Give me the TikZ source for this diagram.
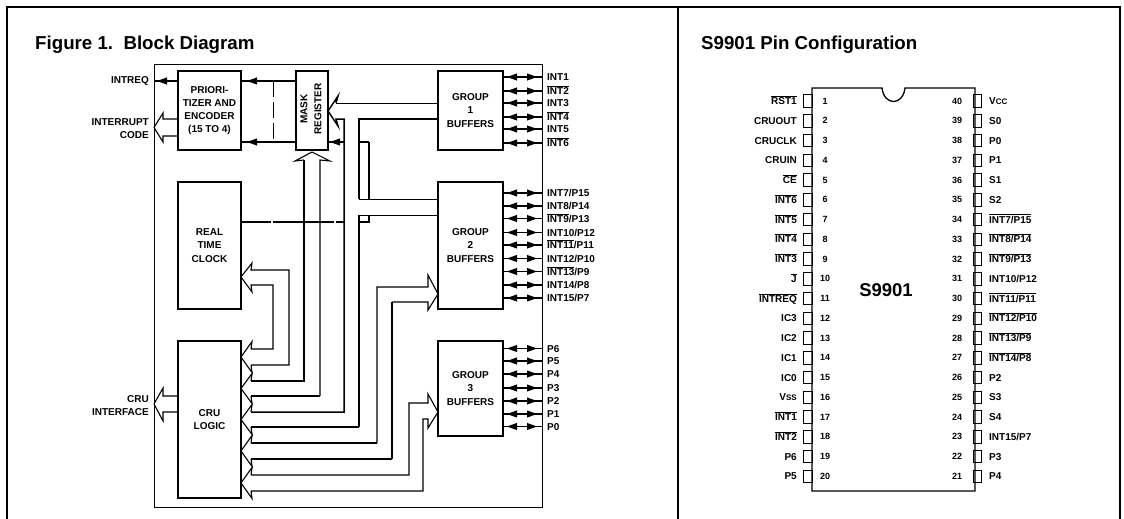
\documentclass[tikz,border=0pt]{standalone}
\usepackage{fontspec}
\setmainfont{Liberation Sans}
\usetikzlibrary{decorations.markings,calc}
\newcommand\ovl[1]{\vbox{\hrule height .7pt \kern .8pt \hbox{#1}}}
\newcommand\smc[1]{{\fontsize{8}{8}\selectfont #1}}
\tikzset{
  frameline/.style={line width=1.5pt},
  wthin/.style={line width=.8pt},
  wmed/.style={line width=1.1pt},
  wthick/.style={line width=1.5pt},
  blockbox/.style={draw,line width=1.6pt,inner sep=0pt,outer sep=0pt,anchor=north west,align=center,
     font=\fontsize{10}{13.3}\selectfont\bfseries},
  plainbox/.style={draw,line width=.9pt,inner sep=0pt,outer sep=0pt,anchor=north west},
  lab/.style={inner sep=0pt,font=\fontsize{10}{12}\selectfont\bfseries},
  num/.style={inner sep=0pt,font=\fontsize{9}{11}\selectfont\bfseries},
  pinbox/.style={draw,line width=.9pt,inner sep=0pt,outer sep=0pt,minimum width=8.5pt,minimum height=12.5pt},
  bidi/.style={wmed,postaction={decorate},decoration={markings,
     mark=at position 4pt with {\fill (0,0)--(10,3.6)--(10,-3.6)--cycle;},
     mark=at position -5pt with {\fill (0,0)--(-10,3.6)--(-10,-3.6)--cycle;}}},
  arrowat/.style={postaction={decorate},decoration={markings,
     mark=at position -#1pt with {\fill (0,0)--(-10,3.6)--(-10,-3.6)--cycle;}}},
  titletext/.style={inner sep=0pt,font=\fontsize{18.7}{20}\selectfont\bfseries},
}
\begin{document}
\begin{tikzpicture}[x=1pt,y=-1pt,line join=miter]
\useasboundingbox (0,0) rectangle (1124,519);
% page frame
\draw[frameline] (7,519)--(7,7)--(1120,7)--(1120,519);
\draw[frameline] (678,7)--(678,519);
\node[titletext,anchor=base west] (title1) at (35,49) {Figure 1.\ \ Block Diagram};
\node[titletext,anchor=base west] (title2) at (701,49) {S9901 Pin Configuration};
% block diagram
\node[plainbox,minimum width=388pt,minimum height=443pt] (frame) at (154,64) {};
\node[blockbox,minimum width=63pt,minimum height=79pt] (prio) at (178,71) {PRIORI-\\TIZER AND\\ENCODER\\(15 TO 4)};
\node[blockbox,minimum width=32pt,minimum height=79pt] (mask) at (296,71) {};
\node[lab,rotate=90,align=center,font=\fontsize{10}{14}\selectfont\bfseries] (masktext) at (311,109) {MASK\\REGISTER};
\node[blockbox,minimum width=63pt,minimum height=127pt] (rtc) at (178,182) {REAL\\TIME\\CLOCK};
\node[blockbox,minimum width=63pt,minimum height=157pt] (cru) at (178,341) {CRU\\LOGIC};
\node[blockbox,minimum width=65pt,minimum height=79pt] (g1) at (438,71) {GROUP\\1\\BUFFERS};
\node[blockbox,minimum width=65pt,minimum height=127pt] (g2) at (438,182) {GROUP\\2\\BUFFERS};
\node[blockbox,minimum width=65pt,minimum height=95pt] (g3) at (438,341) {GROUP\\3\\BUFFERS};
% left labels
\node[lab,anchor=base east] (lreq) at (149,84) {INTREQ};
\node[lab,anchor=base east] (lint) at (149,125) {INTERRUPT};
\node[lab,anchor=base east] (lcode) at (149,138) {CODE};
\node[lab,anchor=base east] (lcru) at (149,402) {CRU};
\node[lab,anchor=base east] (lif) at (149,415) {INTERFACE};
% outputs on the left
\draw[wmed,arrowat=3] (prio.west |- 0,81) -- (frame.west |- 0,81);
\draw[wmed] (prio.west |- 0,119) -- (163,119) -- (163,113) -- (frame.west |- 0,127.5) -- (163,142) -- (163,136) -- (prio.west |- 0,136);
\draw[wmed] (cru.west |- 0,396) -- (163,396) -- (163,388) -- (frame.west |- 0,404) -- (163,421) -- (163,412) -- (cru.west |- 0,412);
% mask to prioritizer
\draw[wmed,arrowat=6] (mask.west |- 0,81) -- (prio.east |- 0,81);
\draw[wthick,arrowat=6] (mask.west |- 0,142) -- (prio.east |- 0,142);
\coordinate (dtop) at (273,81);
\coordinate (dbot) at (273,142);
\draw[wthin,dash pattern=on 16pt off 5pt] (dtop) -- (dbot);
% group 1 to mask, and the bus down to CRU
\draw[wthick] (251,412) -- (344,412) -- (344,119) -- (336,119) -- (338,126) -- (mask.east |- 0,111) -- (338,96) -- (336,103);
\draw[wthin] (336,103) -- (g1.west |- 0,103);
\draw[wthick] (g1.west |- 0,119) -- (359,119) -- (359,199);
\draw[wthin] (359,199) -- (g2.west |- 0,199);
\draw[wthin] (g2.west |- 0,215) -- (359,215);
\draw[wthick] (359,215) -- (359,427);
\draw[wmed] (359,427) -- (251,427);
% mask input and real-time clock line
\draw[wthick,arrowat=2] (344,142) -- (mask.east |- 0,142);
\coordinate (ja) at (359,142);
\coordinate (jb) at (369,142);
\coordinate (jc) at (369,199);
\draw[wmed] (ja) -- (jb);
\draw[wthick] (jb) -- (jc);
\draw[wthick,dash pattern=on 30pt off 1.5pt] (rtc.east |- 0,222) -- (344,222);
\coordinate (ka) at (359,222);
\coordinate (kb) at (369,222);
\coordinate (kc) at (369,215);
\draw[wthick] (ka) -- (kb) -- (kc);
% bus to mask register
\draw[wthick] (251,381) -- (304,381) -- (304,160);
\draw[wmed] (304,160) -- (295,161) -- (mask.south |- 0,152) -- (330,161) -- (320,160) -- (320,396) ;
\draw[wmed] (320,396) -- (251,396);
% bus to real time clock
\draw[wmed] (251,349) -- (273,349) -- (273,285) -- (251,285) -- (252,292) -- (rtc.east |- 0,277) -- (252,263) -- (251,270) -- (289,270) -- (289,365) -- (251,365);
% bus to group 2
\draw[wthick] (251,443) -- (377,443);
\draw[wmed] (377,443) -- (377,287) -- (428,287) -- (428,275) -- (g2.west |- 0,294) -- (428,310) -- (428,302) -- (392,302);
\draw[wthick] (392,302) -- (392,459);
\draw[wmed] (392,459) -- (251,459);
% bus to group 3
\draw[wmed] (251,475) -- (409,475) -- (409,403) -- (428,403) -- (428,394) -- (g3.west |- 0,412) -- (428,428) -- (428,419) -- (423,419) -- (423,491) -- (251,491);
% hollow heads on the CRU logic
\foreach \a/\b in {349/365,381/396,412/427,443/459,475/491}{
  \pgfmathsetmacro\m{(\a+\b)/2}
  \pgfmathsetmacro\up{\a-7.5}
  \pgfmathsetmacro\dn{\b+7.5}
  \draw[wmed] (251,\a) -- (252,\up) -- (cru.east |- 0,\m) -- (252,\dn) -- (251,\b);
}
% bidirectional lines and their labels
\foreach \n/\y/\t in {a/77/INT1,b/91/\ovl{INT2},c/103/INT3,d/117/\ovl{INT4},e/129/INT5,f/143/\ovl{INT6}}{
  \coordinate (r\n) at (547,\y);
  \draw[bidi] (g1.east |- r\n) -- (frame.east |- r\n);
  \node[lab,anchor=base west] (rt\n) at ($(r\n)+(0,3.6)$) {\t};
}
\foreach \n/\y/\t in {a/193/{INT7/P15},b/206/{INT8/P14},c/218.5/{\ovl{INT9}/P13},d/232.5/{INT10/P12},e/245/{\ovl{INT11}/P11},f/258.5/{INT12/P10},g/271.5/{\ovl{INT13}/P9},h/285/{INT14/P8},i/298/{INT15/P7}}{
  \coordinate (s\n) at (547,\y);
  \draw[bidi] (g2.east |- s\n) -- (frame.east |- s\n);
  \node[lab,anchor=base west] (st\n) at ($(s\n)+(0,3.6)$) {\t};
}
\foreach \n/\y/\t in {a/348.5/P6,b/361/P5,c/374/P4,d/388/P3,e/401/P2,f/414/P1,g/426.5/P0}{
  \coordinate (u\n) at (547,\y);
  \draw[bidi] (g3.east |- u\n) -- (frame.east |- u\n);
  \node[lab,anchor=base west] (ut\n) at ($(u\n)+(0,3.6)$) {\t};
}
% pin configuration
\draw[line width=1.3pt] (812,88) -- (882,88) .. controls (884,106) and (903,106) .. (905,88) -- (975,88) -- (975,491) -- (812,491) -- cycle;
\node[line width=0pt,inner sep=0pt,font=\fontsize{18.5}{20}\selectfont\bfseries] (chip) at (886,290) {S9901};
\foreach \i/\t in {1/\ovl{RST1},2/CRUOUT,3/CRUCLK,4/CRUIN,5/\ovl{CE},6/\ovl{INT6},7/\ovl{INT5},8/\ovl{INT4},9/\ovl{INT3},10/\ovl{J},11/\ovl{INTREQ},12/IC3,13/IC2,14/IC1,15/IC0,16/{V\smc{SS}},17/\ovl{INT1},18/\ovl{INT2},19/P6,20/P5}{
  \pgfmathsetmacro\py{101+19.75*(\i-1)}
  \node[pinbox,anchor=east] (pl\i) at (812,\py) {};
  \node[lab,anchor=base east] (plt\i) at (797,\py+3.6) {\t};
  \node[num] (pln\i) at (825,\py) {\i};
}
\foreach \i/\r/\t in {40/1/{V\smc{CC}},39/2/S0,38/3/P0,37/4/P1,36/5/S1,35/6/S2,34/7/{\ovl{INT7/P15}},33/8/{\ovl{INT8/P14}},32/9/{\ovl{INT9/P13}},31/10/{INT10/P12},30/11/{\ovl{INT11/P11}},29/12/{\ovl{INT12/P10}},28/13/{\ovl{INT13/P9}},27/14/{\ovl{INT14/P8}},26/15/P2,25/16/S3,24/17/S4,23/18/{INT15/P7},22/19/P3,21/20/P4}{
  \pgfmathsetmacro\py{101+19.75*(\r-1)}
  \node[pinbox,anchor=west] (pr\i) at (973,\py) {};
  \node[lab,anchor=base west] (prt\i) at (989,\py+3.6) {\t};
  \node[num] (prn\i) at (957,\py) {\i};
}
\end{tikzpicture}
\end{document}
